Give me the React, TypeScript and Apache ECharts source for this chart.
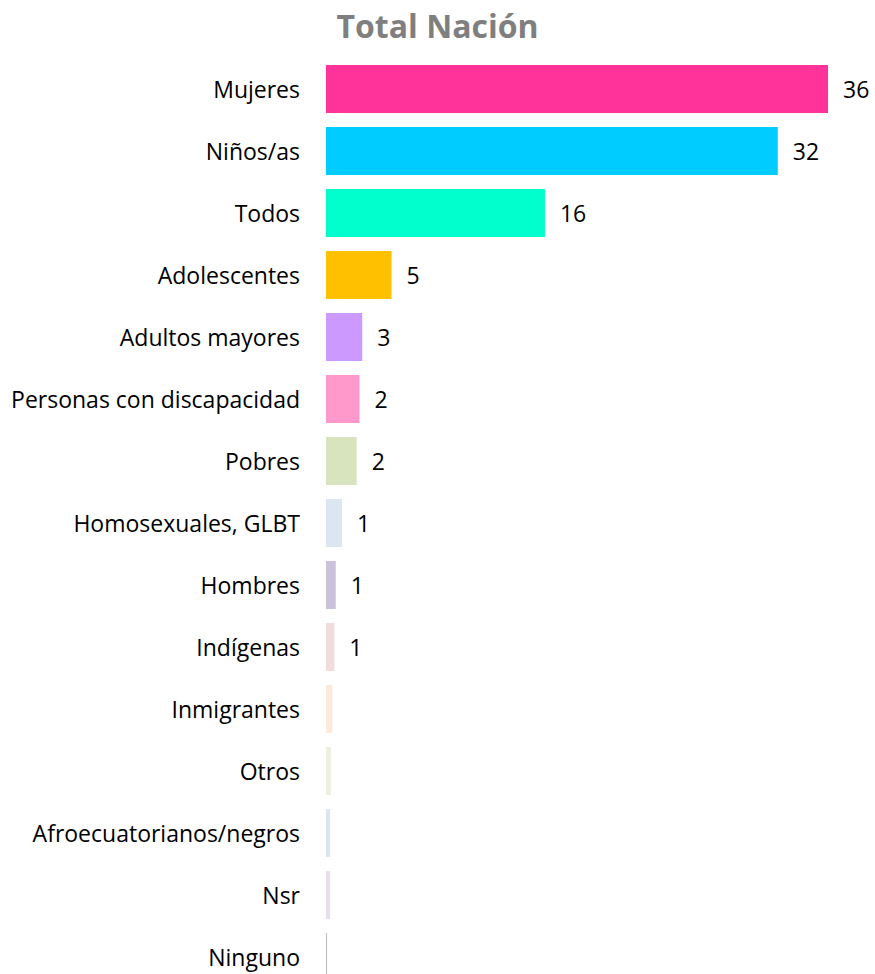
import React, { useEffect, useRef } from "react";
import * as echarts from "echarts";

const categories = [
  "Mujeres",
  "Niños/as",
  "Todos",
  "Adolescentes",
  "Adultos mayores",
  "Personas con discapacidad",
  "Pobres",
  "Homosexuales, GLBT",
  "Hombres",
  "Indígenas",
  "Inmigrantes",
  "Otros",
  "Afroecuatorianos/negros",
  "Nsr",
  "Ninguno",
];

const values = [36, 32.4, 15.7, 4.7, 2.6, 2.4, 2.2, 1.15, 0.7, 0.6, 0.45, 0.35, 0.3, 0.3, 0.08];

const colors = [
  "#FF3399",
  "#00CCFF",
  "#00FFCC",
  "#FFC000",
  "#CC99FF",
  "#FF99CC",
  "#D7E4BD",
  "#DCE6F2",
  "#CCC1DA",
  "#F2DCDB",
  "#FDEADA",
  "#EBF1DE",
  "#DBE5F1",
  "#E6E0EC",
  "#BFBFBF",
];

const FONT = "'Open Sans', 'Noto Sans', sans-serif";

export default function App() {
  const ref = useRef<HTMLDivElement>(null);
  useEffect(() => {
    if (!ref.current) return;
    const chart = echarts.init(ref.current, null, { renderer: "svg" });
    chart.setOption({
      animation: false,
      backgroundColor: "#ffffff",
      title: {
        text: "Total Nación",
        left: "center",
        top: 4,
        textStyle: {
          fontFamily: FONT,
          fontSize: 32,
          fontWeight: "bold",
          color: "#7F7F7F",
        },
      },
      grid: { left: 326, right: 47, top: 58, bottom: 12, containLabel: false },
      xAxis: {
        type: "value",
        min: 0,
        max: 36,
        show: false,
      },
      yAxis: {
        type: "category",
        inverse: true,
        data: categories,
        axisLine: { show: false },
        axisTick: { show: false },
        axisLabel: {
          margin: 26,
          fontFamily: FONT,
          fontSize: 23,
          color: "#000000",
        },
      },
      series: [
        {
          type: "bar",
          barWidth: 48,
          data: values.map((v, i) => ({ value: v, itemStyle: { color: colors[i] } })),
          label: {
            show: true,
            position: "right",
            distance: 15,
            fontFamily: FONT,
            fontSize: 23,
            color: "#000000",
            formatter: (p: any) => {
              const r = Math.round(p.value);
              return r > 0 ? String(r) : "";
            },
          },
        },
      ],
    });
    return () => chart.dispose();
  }, []);
  return (
    <div
      style={{
        position: "fixed",
        left: 0,
        top: 0,
        width: 875,
        height: 974,
        overflow: "hidden",
        background: "#ffffff",
      }}
    >
      <div ref={ref} style={{ width: 875, height: 1000 }} />
    </div>
  );
}
